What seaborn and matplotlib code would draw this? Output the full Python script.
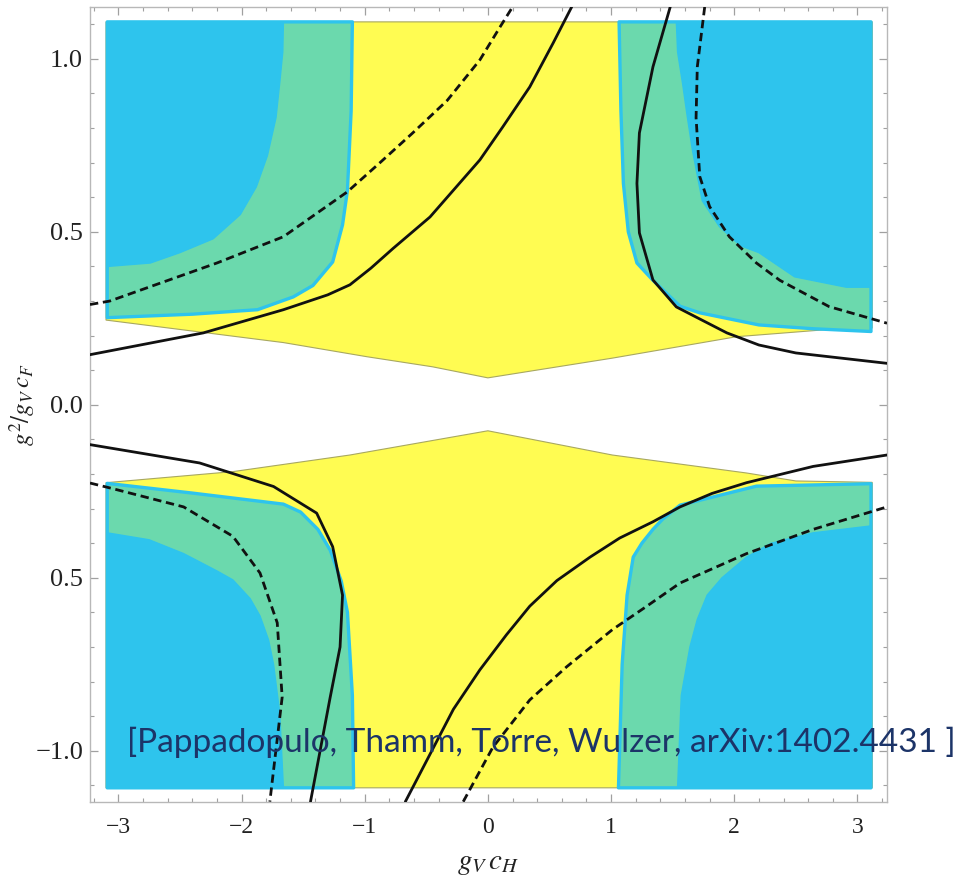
import matplotlib
matplotlib.use("Agg")
import matplotlib.pyplot as plt
from matplotlib.ticker import MultipleLocator, FixedLocator, FixedFormatter
import seaborn as sns

# ---- allowed regions (polygon vertices, data coordinates) ----
yellow_up_x = [-3.10, 3.12, 3.12, 2.77, 2.02, 1.01, 0.00, -0.45, -0.98, -1.66, -3.10]
yellow_up_y = [1.107, 1.107, 0.222, 0.218, 0.197, 0.135, 0.078, 0.110, 0.139, 0.180, 0.245]
yellow_lo_x = [-3.10, 3.12, 3.12, 2.50, 2.10, 1.01, 0.00, -1.12, -2.07, -3.10]
yellow_lo_y = [-1.107, -1.107, -0.224, -0.220, -0.197, -0.145, -0.075, -0.145, -0.193, -0.225]

green_ul_x = [-3.09, -1.10, -1.11, -1.14, -1.18, -1.26, -1.42, -1.58, -1.87, -2.40, -3.09]
green_ul_y = [1.107, 1.107, 0.85, 0.62, 0.52, 0.413, 0.345, 0.312, 0.275, 0.262, 0.252]
blue_ul_x = [-3.09, -1.66, -1.665, -1.69, -1.72, -1.79, -1.88, -2.01, -2.23, -2.50, -2.74, -3.09]
blue_ul_y = [1.107, 1.107, 1.02, 0.93, 0.83, 0.72, 0.63, 0.55, 0.48, 0.44, 0.41, 0.40]

green_ur_x = [1.065, 1.08, 1.10, 1.14, 1.21, 1.34, 1.56, 1.72, 2.20, 2.64, 3.11, 3.11]
green_ur_y = [1.107, 0.85, 0.64, 0.50, 0.41, 0.36, 0.285, 0.266, 0.231, 0.220, 0.212, 1.107]
blue_ur_x = [1.53, 1.54, 1.58, 1.62, 1.66, 1.74, 1.88, 2.05, 2.20, 2.49, 2.91, 3.11, 3.11]
blue_ur_y = [1.107, 1.02, 0.93, 0.83, 0.737, 0.59, 0.515, 0.46, 0.44, 0.37, 0.34, 0.34, 1.107]

green_ll_x = [-3.09, -2.40, -1.66, -1.52, -1.38, -1.28, -1.19, -1.14, -1.10, -1.09, -3.09]
green_ll_y = [-0.227, -0.255, -0.287, -0.31, -0.36, -0.42, -0.51, -0.60, -0.84, -1.107, -1.107]
blue_ll_x = [-3.09, -2.75, -2.47, -2.20, -2.07, -1.93, -1.85, -1.78, -1.74, -1.69, -1.66, -3.09]
blue_ll_y = [-0.37, -0.39, -0.43, -0.48, -0.506, -0.56, -0.61, -0.68, -0.75, -0.89, -1.107, -1.107]

green_lr_x = [3.11, 2.18, 1.56, 1.42, 1.34, 1.25, 1.18, 1.13, 1.09, 1.06, 3.11]
green_lr_y = [-0.228, -0.235, -0.29, -0.33, -0.36, -0.40, -0.44, -0.55, -0.75, -1.107, -1.107]
blue_lr_x = [3.11, 2.64, 2.30, 2.10, 1.90, 1.78, 1.70, 1.64, 1.57, 1.54, 3.11]
blue_lr_y = [-0.35, -0.37, -0.40, -0.44, -0.50, -0.55, -0.62, -0.70, -0.84, -1.107, -1.107]

# ---- contour curves ----
solid_ul_x = [-3.23, -2.31, -1.66, -1.30, -1.12, -0.95, -0.77, -0.47, -0.065, 0.12, 0.34, 0.53, 0.68]
solid_ul_y = [0.145, 0.208, 0.275, 0.318, 0.347, 0.395, 0.452, 0.543, 0.708, 0.803, 0.919, 1.046, 1.15]
dashed_ul_x = [-3.23, -3.07, -2.20, -1.66, -1.14, -0.876, -0.61, -0.33, -0.065, 0.10, 0.20]
dashed_ul_y = [0.29, 0.30, 0.41, 0.486, 0.616, 0.70, 0.786, 0.88, 0.997, 1.093, 1.15]

solid_ur_x = [1.48, 1.34, 1.23, 1.21, 1.23, 1.34, 1.53, 1.94, 2.20, 2.50, 3.24]
solid_ur_y = [1.15, 0.977, 0.786, 0.64, 0.497, 0.361, 0.283, 0.208, 0.173, 0.150, 0.120]
dashed_ur_x = [1.76, 1.70, 1.69, 1.72, 1.80, 1.96, 2.18, 2.37, 2.77, 3.24]
dashed_ur_y = [1.15, 0.977, 0.83, 0.66, 0.573, 0.486, 0.41, 0.36, 0.284, 0.236]

solid_ll_x = [-3.23, -2.34, -1.74, -1.39, -1.26, -1.18, -1.20, -1.28, -1.44]
solid_ll_y = [-0.115, -0.168, -0.236, -0.313, -0.41, -0.55, -0.70, -0.845, -1.147]
dashed_ll_x = [-3.23, -3.07, -2.47, -2.07, -1.85, -1.71, -1.67, -1.77]
dashed_ll_y = [-0.226, -0.24, -0.295, -0.38, -0.486, -0.63, -0.845, -1.147]

solid_lr_x = [-0.67, -0.28, -0.065, 0.15, 0.34, 0.56, 0.83, 1.07, 1.34, 1.56, 1.82, 2.10, 2.64, 3.24]
solid_lr_y = [-1.147, -0.88, -0.766, -0.665, -0.582, -0.508, -0.44, -0.385, -0.338, -0.295, -0.256, -0.225, -0.178, -0.145]
dashed_lr_x = [-0.20, 0.04, 0.34, 0.64, 1.01, 1.29, 1.56, 2.10, 2.64, 3.24]
dashed_lr_y = [-1.147, -0.99, -0.853, -0.757, -0.65, -0.582, -0.515, -0.43, -0.36, -0.295]

x_ticks = [-3, -2, -1, 0, 1, 2, 3]
x_tick_labels = ["\u22123", "\u22122", "\u22121", "0", "1", "2", "3"]
y_ticks = [-1.0, -0.5, 0.0, 0.5, 1.0]
y_tick_labels = ["\u22121.0", "0.5", "0.0", "0.5", "1.0"]

citation = "[Pappadopulo, Thamm, Torre, Wulzer, arXiv:1402.4431 ]"

BLUE = "#2ec4ed"
GREEN = "#6bd9ad"
YELLOW = "#fffc52"
NAVY = "#1c3468"

sns.set_theme(style="white")
plt.rcParams["mathtext.fontset"] = "stix"

fig = plt.figure(figsize=(9.74, 8.84), dpi=100)
ax = fig.add_axes([90 / 974, 1 - 802 / 884, 797 / 974, 795 / 884])

# yellow bands
for xs, ys in [(yellow_up_x, yellow_up_y), (yellow_lo_x, yellow_lo_y)]:
    ax.fill(xs, ys, facecolor=YELLOW, edgecolor="#a8a860", linewidth=0.8, zorder=1)

# green bands with a thin blue rim, then the blue cores
for xs, ys in [(green_ul_x, green_ul_y), (green_ur_x, green_ur_y),
               (green_ll_x, green_ll_y), (green_lr_x, green_lr_y)]:
    ax.fill(xs, ys, facecolor=GREEN, edgecolor=BLUE, linewidth=2.4,
            joinstyle="round", zorder=2)
for xs, ys in [(blue_ul_x, blue_ul_y), (blue_ur_x, blue_ur_y),
               (blue_ll_x, blue_ll_y), (blue_lr_x, blue_lr_y)]:
    ax.fill(xs, ys, facecolor=BLUE, edgecolor=BLUE, linewidth=1.0,
            joinstyle="round", zorder=3)

# contour lines
solid_curves = [(solid_ul_x, solid_ul_y), (solid_ur_x, solid_ur_y),
                (solid_ll_x, solid_ll_y), (solid_lr_x, solid_lr_y)]
dashed_curves = [(dashed_ul_x, dashed_ul_y), (dashed_ur_x, dashed_ur_y),
                 (dashed_ll_x, dashed_ll_y), (dashed_lr_x, dashed_lr_y)]
for xs, ys in solid_curves:
    sns.lineplot(x=xs, y=ys, sort=False, estimator=None, color="#111111",
                 linewidth=2.0, ax=ax, zorder=4)
for xs, ys in dashed_curves:
    sns.lineplot(x=xs, y=ys, sort=False, estimator=None, color="#111111",
                 linewidth=2.0, ax=ax, zorder=4, linestyle=(0, (3.0, 1.7)))

ax.set_xlim(-3.23, 3.24)
ax.set_ylim(-1.148, 1.15)

# frame styling
for sp in ax.spines.values():
    sp.set_color("#b8b8b8")
    sp.set_linewidth(1.0)
ax.xaxis.set_major_locator(FixedLocator(x_ticks))
ax.xaxis.set_major_formatter(FixedFormatter(x_tick_labels))
ax.yaxis.set_major_locator(FixedLocator(y_ticks))
ax.yaxis.set_major_formatter(FixedFormatter(y_tick_labels))
ax.xaxis.set_minor_locator(MultipleLocator(0.2))
ax.yaxis.set_minor_locator(MultipleLocator(0.1))
ax.tick_params(which="both", direction="in", top=True, right=True,
               bottom=True, left=True, color="#a0a0a0")
ax.tick_params(which="major", length=6, width=0.9)
ax.tick_params(which="minor", length=3, width=0.8)
ax.tick_params(axis="x", which="major", labelsize=17, pad=11, labelcolor="#222222")
ax.tick_params(axis="y", which="major", labelsize=19, pad=5, labelcolor="#222222")
for lab in ax.get_xticklabels() + ax.get_yticklabels():
    lab.set_family("Liberation Serif")

ax.set_xlabel(r"$g_V\, c_H$", fontsize=21, labelpad=8, color="#222222")
ax.set_ylabel(r"$g^2/g_V\, c_F$", fontsize=18, color="#222222")
ax.yaxis.set_label_coords(-0.066, 0.5)

fig.text(127 / 974, 1 - 752 / 884, citation, fontsize=24, family="Lato",
         color=NAVY, va="baseline", ha="left")

fig.savefig("out.png", dpi=100)
